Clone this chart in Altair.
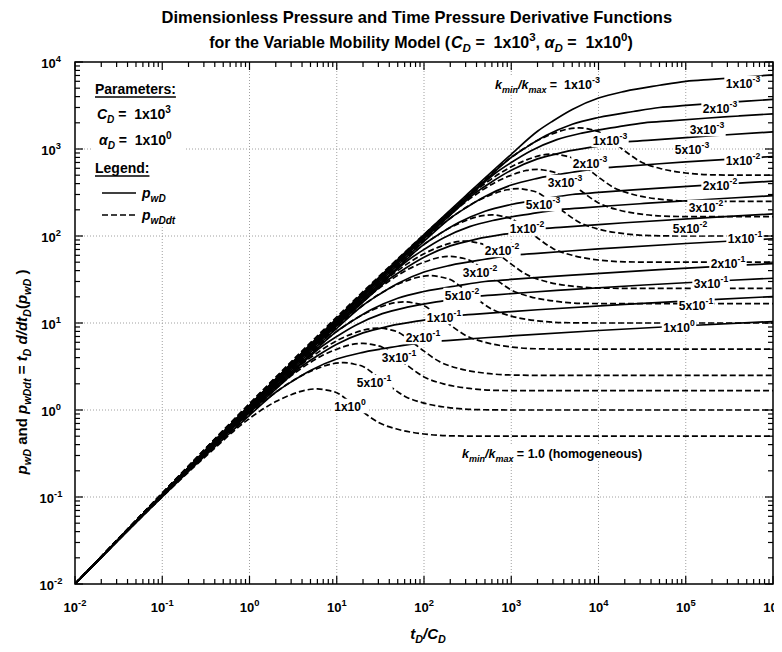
import altair as alt
import pandas as pd

# ---------------- chart values ----------------
RATIOS = ["1e-3", "2e-3", "3e-3", "5e-3", "1e-2", "2e-2", "3e-2", "5e-2", "1e-1", "2e-1", "3e-1", "5e-1", "1e0"]
RATIO_TEXT = [("1x10", "-3"), ("2x10", "-3"), ("3x10", "-3"), ("5x10", "-3"), ("1x10", "-2"), ("2x10", "-2"),
              ("3x10", "-2"), ("5x10", "-2"), ("1x10", "-1"), ("2x10", "-1"), ("3x10", "-1"), ("5x10", "-1"), ("1x10", "0")]

# p_wD (solid) curves, (tD/CD, value) pairs
PWD_1E_3 = [(0.01, 0.01), (300, 290), (1e3, 870), (2e3, 1600), (3e3, 2100), (5e3, 2850), (1e4, 3850), (2e4, 4600), (5e4, 5400), (1e5, 6000), (2e5, 6330), (5e5, 6770), (1e6, 7100)]
PWD_2E_3 = [(0.01, 0.01), (150, 145), (500, 435), (1e3, 800), (1.5e3, 1050), (2.5e3, 1425), (5e3, 1925), (1e4, 2300), (2.5e4, 2700), (5e4, 3000), (1e5, 3165), (2.5e5, 3385), (5e5, 3550), (1e6, 3715)]
PWD_3E_3 = [(0.01, 0.01), (100, 96.7), (333, 290), (667, 533), (1000, 700), (1667, 950), (3333, 1283), (6667, 1533), (16667, 1800), (33333, 2000), (66667, 2110), (166667, 2257), (333333, 2367), (1e6, 2540)]
PWD_5E_3 = [(0.01, 0.01), (60, 58), (200, 174), (400, 320), (600, 420), (1000, 570), (2000, 770), (4000, 920), (1e4, 1080), (2e4, 1200), (4e4, 1266), (1e5, 1354), (2e5, 1420), (1e6, 1574)]
PWD_1E_2 = [(0.01, 0.01), (30, 29), (100, 87), (200, 160), (300, 210), (500, 285), (1000, 385), (2000, 460), (5000, 540), (1e4, 600), (2e4, 633), (5e4, 677), (1e5, 710), (1e6, 820)]
PWD_2E_2 = [(0.01, 0.01), (15, 14.5), (50, 43.5), (100, 80), (150, 105), (250, 142.5), (500, 192.5), (1000, 230), (2500, 270), (5000, 300), (1e4, 316.5), (2.5e4, 338.5), (5e4, 355), (5e5, 410), (1e6, 426.5)]
PWD_3E_2 = [(0.01, 0.01), (10, 9.67), (33.3, 29), (66.7, 53.3), (100, 70), (166.7, 95), (333, 128.3), (667, 153.3), (1667, 180), (3333, 200), (6667, 211), (16667, 225.7), (33333, 236.7), (333333, 273.3), (1e6, 290.7)]
PWD_5E_2 = [(0.01, 0.01), (6, 5.8), (20, 17.4), (40, 32), (60, 42), (100, 57), (200, 77), (400, 92), (1000, 108), (2000, 120), (4000, 126.6), (1e4, 135.4), (2e4, 142), (2e5, 164), (1e6, 179.4)]
PWD_1E_1 = [(0.01, 0.01), (3, 2.9), (10, 8.7), (20, 16), (30, 21), (50, 28.5), (100, 38.5), (200, 46), (500, 54), (1000, 60), (2000, 63.3), (5000, 67.7), (1e4, 71), (1e5, 82), (1e6, 93)]
PWD_2E_1 = [(0.01, 0.01), (1.5, 1.45), (5, 4.35), (10, 8), (15, 10.5), (25, 14.25), (50, 19.25), (100, 23), (250, 27), (500, 30), (1000, 31.65), (2500, 33.85), (5000, 35.5), (5e4, 41), (5e5, 46.5), (1e6, 48.15)]
PWD_3E_1 = [(0.01, 0.01), (1, 0.967), (3.33, 2.9), (6.67, 5.33), (10, 7), (16.7, 9.5), (33.3, 12.83), (66.7, 15.33), (166.7, 18), (333, 20), (667, 21.1), (1667, 22.57), (3333, 23.67), (33333, 27.33), (333333, 31), (1e6, 32.7)]
PWD_5E_1 = [(0.01, 0.01), (0.6, 0.58), (2, 1.74), (4, 3.2), (6, 4.2), (10, 5.7), (20, 7.7), (40, 9.2), (100, 10.8), (200, 12), (400, 12.66), (1000, 13.54), (2000, 14.2), (2e4, 16.4), (2e5, 18.6), (1e6, 20.14)]
PWD_1E0 = [(0.01, 0.01), (0.3, 0.29), (1, 0.87), (2, 1.6), (3, 2.1), (5, 2.85), (10, 3.85), (20, 4.6), (50, 5.4), (100, 6.0), (200, 6.33), (500, 6.77), (1e3, 7.1), (1e4, 8.2), (1e5, 9.3), (1e6, 10.4)]

# p_wDdt (dashed) curves
DER_1E_3 = [(0.01, 0.01), (300, 280), (1e3, 800), (2e3, 1250), (3e3, 1500), (4.5e3, 1700), (6e3, 1750), (8e3, 1680), (1e4, 1580), (1.4e4, 1250), (2e4, 950), (3e4, 720), (5e4, 600), (1e5, 530), (2e5, 505), (5e5, 500), (1e6, 500)]
DER_2E_3 = [(0.01, 0.01), (150, 140), (500, 400), (1e3, 625), (1.5e3, 750), (2.25e3, 850), (3e3, 875), (4e3, 840), (5e3, 790), (7e3, 625), (1e4, 475), (1.5e4, 360), (2.5e4, 300), (5e4, 265), (1e5, 252.5), (2.5e5, 250), (1e6, 250)]
DER_3E_3 = [(0.01, 0.01), (100, 93.3), (333, 266.7), (667, 416.7), (1000, 500), (1500, 566.7), (2000, 583.3), (2667, 560), (3333, 526.7), (4667, 416.7), (6667, 316.7), (1e4, 240), (16667, 200), (33333, 176.7), (66667, 168.3), (166667, 166.7), (1e6, 166.7)]
DER_5E_3 = [(0.01, 0.01), (60, 56), (200, 160), (400, 250), (600, 300), (900, 340), (1200, 350), (1600, 336), (2000, 316), (2800, 250), (4000, 190), (6000, 144), (1e4, 120), (2e4, 106), (4e4, 101), (1e5, 100), (1e6, 100)]
DER_1E_2 = [(0.01, 0.01), (30, 28), (100, 80), (200, 125), (300, 150), (450, 170), (600, 175), (800, 168), (1000, 158), (1400, 125), (2000, 95), (3000, 72), (5000, 60), (1e4, 53), (2e4, 50.5), (5e4, 50), (1e6, 50)]
DER_2E_2 = [(0.01, 0.01), (15, 14), (50, 40), (100, 62.5), (150, 75), (225, 85), (300, 87.5), (400, 84), (500, 79), (700, 62.5), (1000, 47.5), (1500, 36), (2500, 30), (5000, 26.5), (1e4, 25.25), (2.5e4, 25), (1e6, 25)]
DER_3E_2 = [(0.01, 0.01), (10, 9.33), (33.3, 26.7), (66.7, 41.7), (100, 50), (150, 56.7), (200, 58.3), (266.7, 56), (333, 52.7), (466.7, 41.7), (666.7, 31.7), (1000, 24), (1667, 20), (3333, 17.7), (6667, 16.8), (16667, 16.7), (1e6, 16.7)]
DER_5E_2 = [(0.01, 0.01), (6, 5.6), (20, 16), (40, 25), (60, 30), (90, 34), (120, 35), (160, 33.6), (200, 31.6), (280, 25), (400, 19), (600, 14.4), (1000, 12), (2000, 10.6), (4000, 10.1), (1e4, 10), (1e6, 10)]
DER_1E_1 = [(0.01, 0.01), (3, 2.8), (10, 8), (20, 12.5), (30, 15), (45, 17), (60, 17.5), (80, 16.8), (100, 15.8), (140, 12.5), (200, 9.5), (300, 7.2), (500, 6), (1000, 5.3), (2000, 5.05), (5000, 5), (1e6, 5)]
DER_2E_1 = [(0.01, 0.01), (1.5, 1.4), (5, 4), (10, 6.25), (15, 7.5), (22.5, 8.5), (30, 8.75), (40, 8.4), (50, 7.9), (70, 6.25), (100, 4.75), (150, 3.6), (250, 3), (500, 2.65), (1000, 2.525), (2500, 2.5), (1e6, 2.5)]
DER_3E_1 = [(0.01, 0.01), (1, 0.933), (3.33, 2.67), (6.67, 4.17), (10, 5), (15, 5.67), (20, 5.83), (26.7, 5.6), (33.3, 5.27), (46.7, 4.17), (66.7, 3.17), (100, 2.4), (166.7, 2), (333, 1.77), (667, 1.68), (1667, 1.667), (1e6, 1.667)]
DER_5E_1 = [(0.01, 0.01), (0.6, 0.56), (2, 1.6), (4, 2.5), (6, 3), (9, 3.4), (12, 3.5), (16, 3.36), (20, 3.16), (28, 2.5), (40, 1.9), (60, 1.44), (100, 1.2), (200, 1.06), (400, 1.01), (1000, 1), (1e6, 1)]
DER_1E0 = [(0.01, 0.01), (0.3, 0.28), (1, 0.8), (2, 1.25), (3, 1.5), (4.5, 1.7), (6, 1.75), (8, 1.68), (10, 1.58), (14, 1.25), (20, 0.95), (30, 0.72), (50, 0.6), (100, 0.53), (200, 0.505), (500, 0.5), (1e6, 0.5)]

PWD_CURVES = [PWD_1E_3, PWD_2E_3, PWD_3E_3, PWD_5E_3, PWD_1E_2, PWD_2E_2, PWD_3E_2, PWD_5E_2, PWD_1E_1, PWD_2E_1, PWD_3E_1, PWD_5E_1, PWD_1E0]
DER_CURVES = [DER_1E_3, DER_2E_3, DER_3E_3, DER_5E_3, DER_1E_2, DER_2E_2, DER_3E_2, DER_5E_2, DER_1E_1, DER_2E_1, DER_3E_1, DER_5E_1, DER_1E0]

# ---------------- layout (page pixels) ----------------
OX, OY = 75, 62          # plot-area origin on the page
W, H = 698, 522          # plot-area size
X_DOM = [1e-2, 1e6]
Y_DOM = [1e-2, 1e4]

SOLID_LABEL_POS = [(743, 83), (720, 108), (707, 129), (692, 149), (743, 160), (720, 185), (706, 207),
                   (690, 228), (745, 238), (728, 263), (711, 283), (696, 305), (679, 327)]
DASH_LABEL_POS = [(610, 140), (590, 163), (565, 182), (543, 204), (527, 228), (502, 250), (480, 272),
                  (462, 295), (444, 317), (423, 337), (399, 357), (374, 382), (350, 406)]

FONT = "Liberation Sans"
NB = "\u00a0"

# Arial-bold advance widths (per 1000 em) for simple rich-text layout
AW = {' ': 278, NB: 278, '(': 333, ')': 333, ',': 278, '-': 333, '.': 278, '/': 278, ':': 333, '=': 584,
      'A': 722, 'B': 722, 'C': 722, 'D': 722, 'E': 667, 'F': 611, 'G': 778, 'H': 722, 'I': 278, 'L': 611,
      'M': 833, 'N': 722, 'P': 667, 'R': 722, 'S': 667, 'T': 611, 'V': 667,
      'a': 556, 'b': 611, 'c': 556, 'd': 611, 'e': 556, 'f': 333, 'g': 611, 'h': 611, 'i': 278, 'k': 556,
      'l': 278, 'm': 889, 'n': 611, 'o': 611, 'p': 611, 'r': 389, 's': 556, 't': 333, 'u': 611, 'v': 556,
      'w': 778, 'x': 556, 'y': 556, 'z': 500, 'α': 620}


def text_width(s, size):
    return sum(AW.get(ch, 556) for ch in s) * size / 1000.0


TEXT_ROWS, BOX_ROWS, RULE_ROWS = [], [], []


def rich(pieces, x, y, size, anchor="left", angle=0, box=False, pad=1.5):
    items, total = [], 0.0
    for t, k in pieces:
        s = size * (0.72 if k in ("sub", "isub", "sup") else 1.0)
        lead = len(t) - len(t.lstrip(" "))
        core = t.strip(" ").replace(" ", NB)
        if core:
            items.append((core, k, s, total + text_width(" " * lead, s)))
        total += text_width(t, s)
    start = {"left": 0.0, "center": -total / 2.0, "right": -total}[anchor]
    for t, k, s, off in items:
        shift = 0.28 * size if k in ("sub", "isub") else (-0.45 * size if k == "sup" else 0.0)
        along = start + off
        if angle == 0:
            px, py = x + along, y + shift
        else:
            px, py = x + shift, y - along
        TEXT_ROWS.append({"px": px - OX, "py": py - OY, "text": t, "size": s,
                          "italic": k in ("i", "isub"), "angle": angle})
    if box:
        BOX_ROWS.append({"x1": x + start - pad - OX, "x2": x + start + total + pad - OX,
                         "y1": y - 0.98 * size - OY, "y2": y + 0.22 * size - OY})
    return x + start, total


# titles
rich([("Dimensionless Pressure and Time Pressure Derivative Functions", "n")], 417, 23, 16.5, "center")
rich([("for the Variable Mobility Model (", "n"), ("C", "i"), ("D", "isub"), (" =  1x10", "n"), ("3", "sup"),
      (", ", "n"), ("α", "i"), ("D", "isub"), (" =  1x10", "n"), ("0", "sup"), (")", "n")], 421, 48, 16, "center")
# axis titles
rich([("t", "i"), ("D", "isub"), ("/", "i"), ("C", "i"), ("D", "isub")], 428, 639, 15, "center")
rich([("p", "i"), ("wD", "isub"), (" and ", "n"), ("p", "i"), ("wDdt", "isub"), (" = ", "n"), ("t", "i"),
      ("D", "isub"), (" d/dt", "i"), ("D", "isub"), ("(", "n"), ("p", "i"), ("wD", "isub"), (" )", "n")],
     27, 372, 15, "center", angle=270)

# tick labels
for e in range(-2, 7):
    px = OX + (e + 2) * W / 8.0
    rich([("10", "n"), (str(e), "sup")], px, 612, 13, "center")
for e in range(-2, 5):
    py = OY + (4 - e) * H / 6.0
    rich([("10", "n"), (str(e), "sup")], 51, py + 6, 13, "center")

# legend block
BOX_ROWS.append({"x1": 92 - OX, "x2": 184 - OX, "y1": 64 - OY, "y2": 226 - OY})
x0, w0 = rich([("Parameters:", "n")], 95, 94, 14)
RULE_ROWS.append({"x1": x0 - OX, "x2": x0 + w0 - OX, "y": 97 - OY})
rich([("C", "i"), ("D", "isub"), (" =  1x10", "n"), ("3", "sup")], 97, 119, 14)
rich([("α", "i"), ("D", "isub"), (" =  1x10", "n"), ("0", "sup")], 99, 145, 14)
x0, w0 = rich([("Legend:", "n")], 95, 173, 14)
RULE_ROWS.append({"x1": x0 - OX, "x2": x0 + w0 - OX, "y": 176 - OY})
rich([("p", "i"), ("wD", "isub")], 142, 198, 14)
rich([("p", "i"), ("wDdt", "isub")], 142, 220, 14)
LEGEND_SOLID = {"x1": 102 - OX, "x2": 136 - OX, "y": 193 - OY}
LEGEND_DASH = {"x1": 102 - OX, "x2": 136 - OX, "y": 215 - OY}

# curve annotations
rich([("k", "i"), ("min", "isub"), ("/", "i"), ("k", "i"), ("max", "isub"), (" =  1x10", "n"), ("-3", "sup")],
     495, 89, 12.5, "left", box=True)
rich([("k", "i"), ("min", "isub"), ("/", "i"), ("k", "i"), ("max", "isub"), (" = 1.0 (homogeneous)", "n")],
     462, 458, 12.5, "left", box=True)
for (b, ex), (cx, cy) in zip(RATIO_TEXT, SOLID_LABEL_POS):
    rich([(b, "n"), (ex, "sup")], cx, cy + 4.5, 12, "center", box=True)
for (b, ex), (cx, cy) in zip(RATIO_TEXT, DASH_LABEL_POS):
    rich([(b, "n"), (ex, "sup")], cx, cy + 4.5, 12, "center", box=True)

# ---------------- tables ----------------
rows = []
for r, pts in zip(RATIOS, PWD_CURVES):
    for i, (x, y) in enumerate(pts):
        rows.append({"x": x, "y": y, "cid": "p" + r, "kind": "pwD", "i": i})
for r, pts in zip(RATIOS, DER_CURVES):
    for i, (x, y) in enumerate(pts):
        rows.append({"x": x, "y": y, "cid": "d" + r, "kind": "pwDdt", "i": i})
curves = pd.DataFrame(rows)

MAJOR_X = [10.0 ** e for e in range(-2, 7)]
MAJOR_Y = [10.0 ** e for e in range(-2, 5)]
MINOR_X = [k * 10.0 ** e for e in range(-2, 6) for k in range(2, 10)]
MINOR_Y = [k * 10.0 ** e for e in range(-2, 4) for k in range(2, 10)]

xs = alt.Scale(type="log", domain=X_DOM, nice=False)
ys = alt.Scale(type="log", domain=Y_DOM, nice=False)

grid_x = alt.Chart(pd.DataFrame({"v": MAJOR_X[1:-1]})).mark_rule(
    color="#a0a0a0", strokeDash=[1, 2], strokeWidth=1).encode(
    x=alt.X("v:Q", scale=xs, axis=None), y=alt.value(0), y2=alt.value(H))
grid_y = alt.Chart(pd.DataFrame({"v": MAJOR_Y[1:-1]})).mark_rule(
    color="#a0a0a0", strokeDash=[1, 2], strokeWidth=1).encode(
    y=alt.Y("v:Q", scale=ys, axis=None), x=alt.value(0), x2=alt.value(W))

line_enc = dict(x=alt.X("x:Q", scale=xs, axis=None), y=alt.Y("y:Q", scale=ys, axis=None),
                detail="cid:N", order="i:Q")
solid = alt.Chart(curves).transform_filter("datum.kind == 'pwD'").mark_line(
    color="black", strokeWidth=1.7, interpolate="monotone", clip=True).encode(**line_enc)
dashed = alt.Chart(curves).transform_filter("datum.kind == 'pwDdt'").mark_line(
    color="black", strokeWidth=1.7, strokeDash=[6, 3], interpolate="monotone", clip=True).encode(**line_enc)

boxes = alt.Chart(pd.DataFrame(BOX_ROWS)).mark_rect(color="white").encode(
    x=alt.X("x1:Q", scale=None), x2="x2:Q", y=alt.Y("y1:Q", scale=None), y2="y2:Q")

ann = pd.DataFrame(TEXT_ROWS)
txt_common = dict(x=alt.X("px:Q", scale=None), y=alt.Y("py:Q", scale=None), text="text:N",
                  size=alt.Size("size:Q", scale=None, legend=None), angle=alt.Angle("angle:Q", scale=None))
txt_norm = alt.Chart(ann).transform_filter("!datum.italic").mark_text(
    align="left", baseline="alphabetic", font=FONT, fontWeight="bold", color="black").encode(**txt_common)
txt_ital = alt.Chart(ann).transform_filter("datum.italic").mark_text(
    align="left", baseline="alphabetic", font=FONT, fontWeight="bold", fontStyle="italic",
    color="black").encode(**txt_common)

under = alt.Chart(pd.DataFrame(RULE_ROWS)).mark_rule(color="black", strokeWidth=1.5).encode(
    x=alt.X("x1:Q", scale=None), x2="x2:Q", y=alt.Y("y:Q", scale=None))
leg_solid = alt.Chart(pd.DataFrame([LEGEND_SOLID])).mark_rule(color="black", strokeWidth=1.7).encode(
    x=alt.X("x1:Q", scale=None), x2="x2:Q", y=alt.Y("y:Q", scale=None))
leg_dash = alt.Chart(pd.DataFrame([LEGEND_DASH])).mark_rule(color="black", strokeWidth=1.7, strokeDash=[6, 3]).encode(
    x=alt.X("x1:Q", scale=None), x2="x2:Q", y=alt.Y("y:Q", scale=None))


def ticks_x(vals, ln):
    b = alt.Chart(pd.DataFrame({"v": vals})).mark_rule(color="black", strokeWidth=1.2)
    xe = alt.X("v:Q", scale=xs, axis=None)
    return [b.encode(x=xe, y=alt.value(H), y2=alt.value(H - ln)),
            b.encode(x=xe, y=alt.value(0), y2=alt.value(ln))]


def ticks_y(vals, ln):
    b = alt.Chart(pd.DataFrame({"v": vals})).mark_rule(color="black", strokeWidth=1.2)
    ye = alt.Y("v:Q", scale=ys, axis=None)
    return [b.encode(y=ye, x=alt.value(0), x2=alt.value(ln)),
            b.encode(y=ye, x=alt.value(W), x2=alt.value(W - ln))]


tick_layers = ticks_x(MAJOR_X, 8) + ticks_x(MINOR_X, 5) + ticks_y(MAJOR_Y, 8) + ticks_y(MINOR_Y, 5)

chart = alt.layer(
    grid_x, grid_y, solid, dashed, boxes, *tick_layers, under, leg_solid, leg_dash, txt_norm, txt_ital
).properties(
    width=W, height=H,
    autosize=alt.AutoSizeParams(type="none"),
    padding={"left": OX - 8, "top": OY - 8, "right": 782 - 8 - OX - W, "bottom": 644 - OY - H},
).configure_view(stroke="black", strokeWidth=1.5)

chart.save("out.html", embed_options={"renderer": "svg", "actions": False})
